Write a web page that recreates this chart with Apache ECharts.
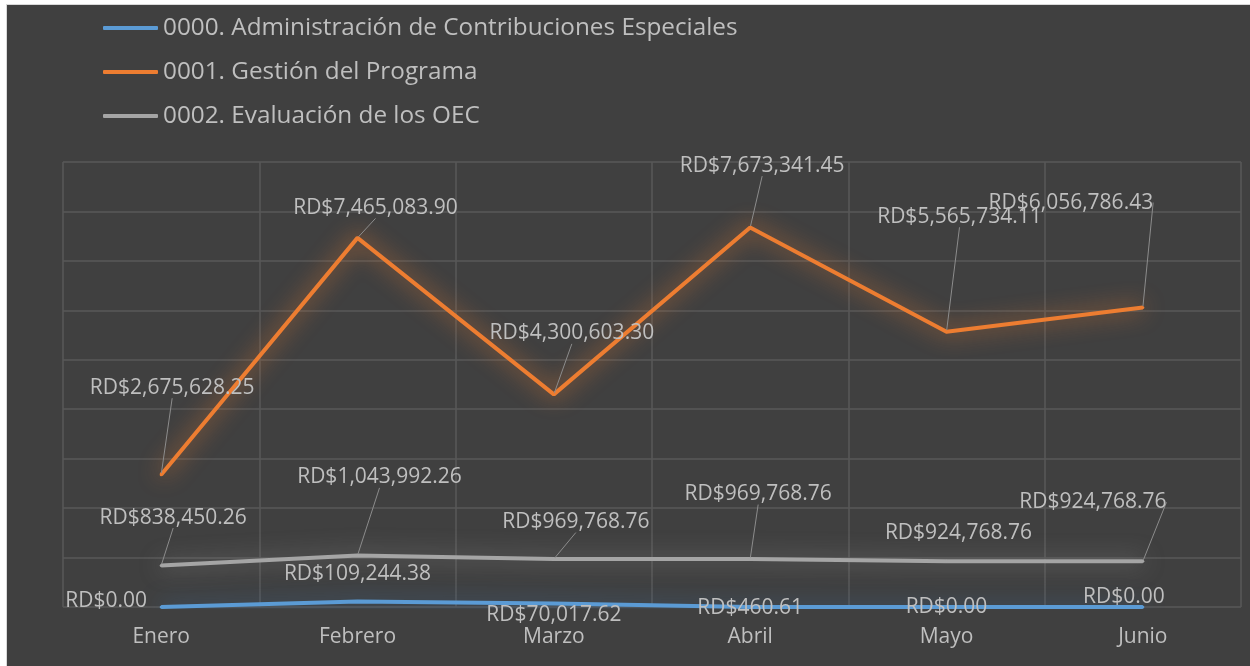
<!DOCTYPE html>
<html>
<head>
<meta charset="utf-8">
<script src="https://cdn.jsdelivr.net/npm/echarts@6/dist/echarts.min.js"></script>
<style>
  html, body { margin: 0; padding: 0; background: #ffffff; }
  #myChart {
    position: absolute; left: 6px; top: 4px; width: 1244px; height: 662px;
    border-left: 1px solid #d9d9d9; border-top: 1px solid #d9d9d9;
    background: #404040;
  }
</style>
</head>
<body>
<div id="myChart"></div>
<script>
// datos
const meses = ['Enero', 'Febrero', 'Marzo', 'Abril', 'Mayo', 'Junio'];
const nombres = [
  '0000. Administración de Contribuciones Especiales',
  '0001. Gestión del Programa',
  '0002. Evaluación de los OEC'
];
const administracion = [0, 109244.38, 70017.62, 460.61, 0, 0];
const gestion = [2675628.25, 7465083.90, 4300603.30, 7673341.45, 5565734.11, 6056786.43];
const evaluacion = [838450.26, 1043992.26, 969768.76, 969768.76, 924768.76, 924768.76];

// desplazamiento de etiquetas (px, respecto al punto)
const despAdmin = [[-55, -6], [0, -28], [0, 11], [0, 1], [0, 0], [-19, -10]];
const despGestion = [[11, -87], [18, -30], [18, -61], [12, -62], [13, -115], [-72, -105]];
const despEval = [[12, -48], [22, -78], [22, -37], [8, -65], [12, -28], [-50, -59]];
const desplazamientos = [despAdmin, despGestion, despEval];
// lineas guia visibles
const guias = [
  [false, false, false, false, false, false],
  [true, true, true, true, true, true],
  [true, true, true, true, false, true]
];

const fuente = '"Open Sans", sans-serif';
const colores = ['#5b9bd5', '#ed7d31', '#a5a5a5'];
const brillos = ['rgba(60,110,160,0.9)', 'rgba(237,125,49,1)', 'rgba(150,150,150,0.8)'];

function rd(v) {
  return 'RD$' + v.toLocaleString('en-US', { minimumFractionDigits: 2, maximumFractionDigits: 2 });
}

let myChart = echarts.init(document.getElementById('myChart'));

const series = [administracion, gestion, evaluacion].map((d, i) => ({
  name: nombres[i],
  type: 'line',
  data: d.map((v, j) => ({ value: v, labelLine: { show: guias[i][j] } })),
  symbol: 'circle',
  symbolSize: 3,
  itemStyle: { color: colores[i] },
  lineStyle: {
    width: 4,
    color: colores[i],
    shadowBlur: 22,
    shadowColor: brillos[i]
  },
  label: {
    show: true,
    position: 'inside',
    color: '#bfbfbf',
    fontSize: 21,
    fontFamily: fuente,
    formatter: p => rd(p.value)
  },
  labelLine: {
    show: true,
    lineStyle: { color: '#8c8c8c', width: 1 }
  },
  labelLayout: p => ({
    dx: desplazamientos[p.seriesIndex][p.dataIndex][0],
    dy: desplazamientos[p.seriesIndex][p.dataIndex][1]
  }),
  z: i === 1 ? 3 : 2
}));

myChart.setOption({
  backgroundColor: '#404040',
  animation: false,
  legend: {
    orient: 'vertical',
    left: 96,
    top: 11,
    padding: 0,
    itemGap: 20,
    itemWidth: 55,
    itemHeight: 4,
    icon: 'roundRect',
    data: nombres,
    textStyle: { color: '#bfbfbf', fontSize: 24.3, fontFamily: fuente }
  },
  grid: { left: 56, right: 10, top: 157, bottom: 60 },
  xAxis: {
    type: 'category',
    boundaryGap: true,
    data: meses,
    axisLine: { show: false },
    axisTick: { show: false },
    axisLabel: { color: '#bfbfbf', fontSize: 21, fontFamily: fuente, margin: 20 },
    splitLine: { show: true, lineStyle: { color: '#595959', width: 1.5 } }
  },
  yAxis: {
    type: 'value',
    min: 0,
    max: 9000000,
    interval: 1000000,
    axisLabel: { show: false },
    axisLine: { show: false },
    axisTick: { show: false },
    splitLine: { show: true, lineStyle: { color: '#595959', width: 1.5 } }
  },
  series: series
});
</script>
</body>
</html>
